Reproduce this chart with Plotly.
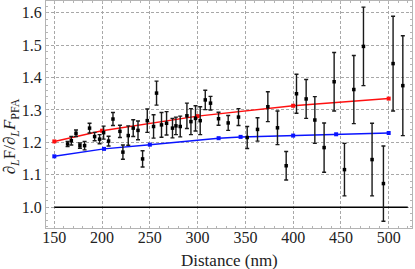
import plotly.graph_objects as go

# measured data
dist = [163.9, 167.8, 172.7, 176.8, 181.7, 186.9, 192.2, 197.4, 201.6, 206.8,
        211.4, 218.7, 221.8, 227.4, 232.6, 237.6, 242.4, 247.3, 253.9, 257.0,
        262.2, 267.5, 273.7, 277.3, 281.8, 288.8, 293.0, 297.8, 302.7, 308.0,
        313.5, 321.9, 332.0, 342.8, 351.9, 362.7, 373.5, 383.6, 392.7, 403.5,
        413.6, 422.7, 432.4, 442.9, 453.7, 463.5, 473.6, 482.6, 494.5, 504.6,
        514.8]
ratio = [1.195, 1.205, 1.228, 1.190, 1.190, 1.244, 1.218, 1.210, 1.230, 1.204,
         1.272, 1.234, 1.170, 1.221, 1.244, 1.237, 1.149, 1.267, 1.249, 1.352,
         1.254, 1.259, 1.244, 1.251, 1.249, 1.282, 1.264, 1.274, 1.267, 1.331,
         1.321, 1.273, 1.260, 1.278, 1.215, 1.240, 1.310, 1.245, 1.128, 1.350,
         1.334, 1.269, 1.184, 1.387, 1.116, 1.363, 1.496, 1.147, 1.073, 1.443,
         1.375]
err = [0.008, 0.013, 0.010, 0.008, 0.013, 0.015, 0.013, 0.014, 0.020, 0.015,
       0.020, 0.019, 0.022, 0.030, 0.026, 0.029, 0.025, 0.036, 0.036, 0.037,
       0.038, 0.036, 0.030, 0.027, 0.032, 0.039, 0.040, 0.039, 0.043, 0.030,
       0.021, 0.020, 0.023, 0.026, 0.034, 0.036, 0.046, 0.052, 0.044, 0.060,
       0.060, 0.072, 0.076, 0.090, 0.081, 0.105, 0.121, 0.112, 0.116, 0.146,
       0.154]

# theory curves
red_x = [150, 200, 300, 400, 500]
red_y = [1.203, 1.236, 1.281, 1.313, 1.335]
blue_x = [150, 202, 250, 322, 345, 400, 445, 500]
blue_y = [1.157, 1.180, 1.193, 1.213, 1.217, 1.221, 1.225, 1.229]

# reference line (PFA)
ref_x = [150, 520]
ref_y = [1.0, 1.0]

x_ticks = [150, 200, 250, 300, 350, 400, 450, 500]
y_ticks = [1.0, 1.1, 1.2, 1.3, 1.4, 1.5, 1.6]

fig = go.Figure()
fig.add_trace(go.Scatter(x=ref_x, y=ref_y, mode="lines",
                         line=dict(color="black", width=1.5), showlegend=False))
fig.add_trace(go.Scatter(x=blue_x, y=blue_y, mode="lines+markers",
                         line=dict(color="#0a14ff", width=1.5),
                         marker=dict(symbol="square", size=4, color="#0a14ff"),
                         showlegend=False))
fig.add_trace(go.Scatter(x=red_x, y=red_y, mode="lines+markers",
                         line=dict(color="#ff1010", width=1.5),
                         marker=dict(symbol="square", size=4, color="#ff1010"),
                         showlegend=False))
fig.add_trace(go.Scatter(x=dist, y=ratio, mode="markers",
                         marker=dict(symbol="square", size=3.5, color="black"),
                         error_y=dict(type="data", array=err, visible=True,
                                      color="#1a1a1a", thickness=1.4, width=2),
                         showlegend=False))

font_family = "Liberation Serif, Times New Roman, serif"
axis_common = dict(showline=True, linecolor="#b4b4b4", linewidth=1, mirror="allticks",
                   showgrid=True, gridcolor="#a8a8a8", griddash="3px,2px", gridwidth=1,
                   zeroline=False, ticks="", automargin=False,
                   tickfont=dict(family=font_family, size=16, color="#222"))

fig.update_xaxes(range=[141.3, 524.4], tickvals=x_ticks, ticklabelstandoff=-5,
                 minor=dict(dtick=10, ticks="inside", ticklen=2, tickcolor="#b4b4b4", showgrid=False),
                 **axis_common)
fig.update_yaxes(range=[0.936, 1.636], tickvals=y_ticks, tickformat=".1f", ticklabelstandoff=0,
                 minor=dict(dtick=0.02, ticks="inside", ticklen=2, tickcolor="#b4b4b4", showgrid=False),
                 **axis_common)

fig.add_annotation(text="Distance (nm)", xref="paper", yref="paper", x=0.5, y=-0.141,
                   xanchor="center", yanchor="middle", showarrow=False,
                   font=dict(family=font_family, size=17, color="#222"))
fig.add_annotation(text="∂<sub><i>L</i></sub>F/∂<sub><i>L</i></sub><i>F</i><sub>PFA</sub>",
                   xref="paper", yref="paper", x=-0.095, y=0.405, textangle=-90,
                   showarrow=False, xanchor="center", yanchor="middle",
                   font=dict(family=font_family, size=17, color="#222"))

fig.update_layout(width=415, height=269, margin=dict(l=46, r=3, t=1, b=41, autoexpand=False),
                  plot_bgcolor="white", paper_bgcolor="white")
fig.write_html("out.html", config={"displayModeBar": False},
               post_script="document.body.style.margin='0';document.body.style.overflow='hidden';")
